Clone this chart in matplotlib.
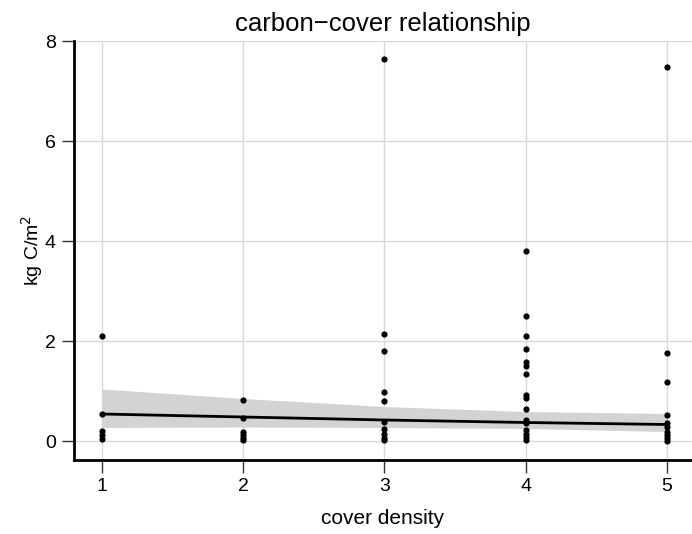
import matplotlib
matplotlib.use("Agg")
import matplotlib.pyplot as plt
import numpy as np

plt.rcParams['font.family'] = ['Liberation Sans', 'DejaVu Sans']

# carbon stock (kg C/m^2) observed at each cover-density class
carbon_d1 = [2.10, 0.55, 0.20, 0.12, 0.04]
carbon_d2 = [0.82, 0.47, 0.18, 0.12, 0.06, 0.02]
carbon_d3 = [7.65, 2.15, 1.80, 0.98, 0.80, 0.38, 0.25, 0.15, 0.07, 0.02]
carbon_d4 = [3.81, 2.50, 2.10, 1.84, 1.59, 1.50, 1.34, 0.92, 0.86, 0.65,
             0.42, 0.36, 0.22, 0.15, 0.08, 0.02]
carbon_d5 = [7.48, 1.77, 1.19, 0.53, 0.37, 0.29, 0.19, 0.12, 0.06, 0.00]

density_classes = [1, 2, 3, 4, 5]

# fitted trend and its confidence band at each density class
fit_values = [0.54, 0.48, 0.42, 0.37, 0.33]
band_upper = [1.04, 0.85, 0.69, 0.59, 0.55]
band_lower = [0.27, 0.28, 0.27, 0.25, 0.19]

y_ticks = [0, 2, 4, 6, 8]

fig = plt.figure(figsize=(6.92, 5.34), dpi=100)
ax = fig.add_axes([74 / 692, 1 - 460 / 534, 1 - 74 / 692, (460 - 41) / 534])

groups = [carbon_d1, carbon_d2, carbon_d3, carbon_d4, carbon_d5]

ax.fill_between(density_classes, band_lower, band_upper, color='#d3d3d3',
                linewidth=0, zorder=2)
ax.plot(density_classes, fit_values, color='black', linewidth=2, zorder=3)

for d, vals in zip(density_classes, groups):
    ax.scatter([d] * len(vals), vals, s=20, color='black', zorder=4,
               linewidths=0)

ax.set_xlim(0.802, 5.177)
ax.set_ylim(-0.38, 8)
ax.set_xticks(density_classes)
ax.set_yticks(y_ticks)
ax.grid(True, color='#d9d9d9', linewidth=1)
ax.set_axisbelow(True)

for side in ['top', 'right']:
    ax.spines[side].set_visible(False)
for side in ['left', 'bottom']:
    ax.spines[side].set_linewidth(2)
    ax.spines[side].set_color('black')

ax.tick_params(axis='both', direction='out', length=9, width=1,
               color='#333333', labelsize=14, pad=4)

ax.set_xlabel('cover density', fontsize=15, labelpad=10)
ax.set_ylabel('kg C/m$^2$', fontsize=14, labelpad=0)
ax.set_title('carbon\u2212cover relationship', fontsize=18.5, pad=7)

fig.savefig('out.png', dpi=100)
